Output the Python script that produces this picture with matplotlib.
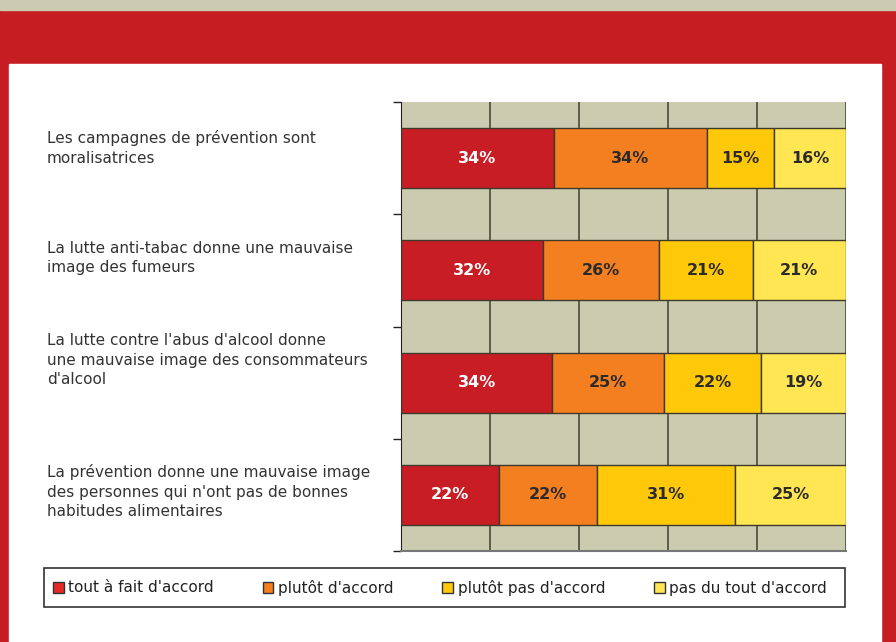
import numpy as np
import matplotlib.pyplot as plt
from matplotlib.patches import Rectangle, Patch
from matplotlib.transforms import blended_transform_factory

statements = ['Les campagnes de prévention sont\nmoralisatrices',
              'La lutte anti-tabac donne une mauvaise\nimage des fumeurs',
              "La lutte contre l'abus d'alcool donne\nune mauvaise image des consommateurs\nd'alcool",
              "La prévention donne une mauvaise image\ndes personnes qui n'ont pas de bonnes\nhabitudes alimentaires"]

tout_a_fait = [34, 32, 34, 22]
plutot = [34, 26, 25, 22]
plutot_pas = [15, 21, 22, 31]
pas_du_tout = [16, 21, 19, 25]

series_names = ["tout à fait d'accord", "plutôt d'accord", "plutôt pas d'accord", "pas du tout d'accord"]
colors = ['#c81d24', '#f47f20', '#ffc90a', '#ffe652']
legend_colors = ['#e42a26', '#f47f20', '#ffc90a', '#ffe652']
text_colors = ['white', '#2b2b2b', '#2b2b2b', '#2b2b2b']

W, H = 896, 642
fig = plt.figure(figsize=(W / 100, H / 100), dpi=100)

# page background: tan strip, red frame, white panel
fig.patches.append(Rectangle((0, 0), 1, 1, transform=fig.transFigure, color='#c61d23', zorder=-10))
fig.patches.append(Rectangle((0, 1 - 10 / H), 1, 10 / H, transform=fig.transFigure, color='#cccbb1', zorder=-9))
fig.patches.append(Rectangle((9 / W, 0), 872 / W, (H - 64) / H, transform=fig.transFigure, color='white', zorder=-9))

ax = fig.add_axes([401 / W, (H - 551) / H, 445 / W, 449 / H])
ax.set_facecolor('#cbcbb0')

data = np.array([tout_a_fait, plutot, plutot_pas, pas_du_tout], dtype=float)
shares = data / data.sum(axis=0) * 100
y = np.arange(len(statements))
left = np.zeros(len(statements))
for i in range(4):
    ax.barh(y, shares[i], left=left, height=0.535, color=colors[i],
            edgecolor='#3d3a2c', linewidth=1, zorder=3)
    for j in range(len(statements)):
        ax.text(left[j] + shares[i][j] / 2, y[j], f'{int(data[i][j])}%', ha='center', va='center',
                color=text_colors[i], fontsize=11.5, fontweight='bold', zorder=4)
    left += shares[i]

ax.set_xlim(0, 100)
ax.set_ylim(3.5, -0.5)
ax.set_xticks([20, 40, 60, 80, 100])
ax.grid(axis='x', color='#4a4a3a', linewidth=1.2, zorder=1)
ax.set_axisbelow(True)
ax.tick_params(axis='x', length=0, labelbottom=False)
ax.set_yticks([-0.5, 0.5, 1.5, 2.5, 3.5])
ax.tick_params(axis='y', length=6, width=1, color='#222222', labelleft=False)
for s in ['top', 'right']:
    ax.spines[s].set_visible(False)
ax.spines['left'].set_color('#222222')
ax.spines['bottom'].set_color('#777777')
ax.spines['bottom'].set_linewidth(1.5)

# statement labels on the left
trans = blended_transform_factory(fig.transFigure, ax.transData)
label_y = [-0.09, -0.11, -0.2, -0.03]
for j, s in enumerate(statements):
    ax.text(47 / W, y[j] + label_y[j], s, transform=trans, ha='left', va='center',
            fontsize=11, color='#333333', linespacing=1.4)

# legend with its own frame
fig.patches.append(Rectangle((44 / W, (H - 607) / H), 801 / W, 39 / H, transform=fig.transFigure,
                             facecolor='white', edgecolor='#333333', linewidth=1.2, zorder=1))
handles = [Patch(facecolor=legend_colors[i], edgecolor='#333333', linewidth=1, label=series_names[i])
           for i in range(4)]
fig.legend(handles=handles, loc='center', bbox_to_anchor=(440 / W, (H - 587.5) / H), ncol=4,
           frameon=False, fontsize=11, handlelength=0.7, handleheight=0.7, handletextpad=0.3,
           columnspacing=3.2, labelcolor='#222222')

fig.savefig('out.png', dpi=100)
